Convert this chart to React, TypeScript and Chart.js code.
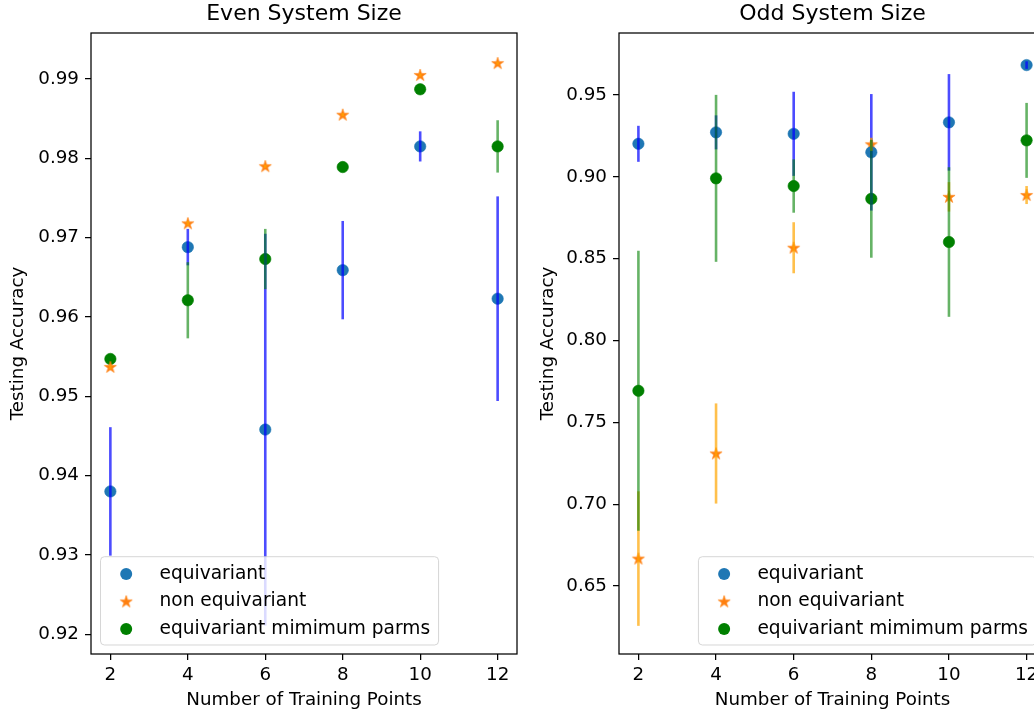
import React, { useEffect, useRef } from "react";
import { Chart, registerables } from "chart.js";

Chart.register(...registerables);

const FONT = "DejaVu Sans";
Chart.defaults.font.family = FONT;

// ---- data ----
const trainingPoints = [2, 4, 6, 8, 10, 12];
const xTickValues = [2, 4, 6, 8, 10, 12];
const xLimits = [1.5, 12.5];
const seriesLabels = ["equivariant", "non equivariant", "equivariant mimimum parms"];
const markerColors = ["#1f77b4", "#ff7f0e", "#008000"];
const errorBarColors = ["rgba(0,0,255,0.7)", "rgba(255,165,0,0.7)", "rgba(0,128,0,0.6)"];

const evenTitle = "Even System Size";
const evenYTicks = [0.92, 0.93, 0.94, 0.95, 0.96, 0.97, 0.98, 0.99];
const evenYLimits = [0.9175, 0.9958];
const evenEquivariant = [0.938, 0.9688, 0.9458, 0.9659, 0.9815, 0.9623];
const evenEquivariantErr = [0.0081, 0.0023, 0.0247, 0.0062, 0.0019, 0.0129];
const evenNonEquivariant = [0.9537, 0.9718, 0.979, 0.9855, 0.9905, 0.992];
const evenNonEquivariantErr = [0.0003, 0.0003, 0.0002, 0.0002, 0.0002, 0.0002];
const evenMinParms = [0.9547, 0.9621, 0.9673, 0.9789, 0.9887, 0.9815];
const evenMinParmsErr = [0.0003, 0.0048, 0.0038, 0.0003, 0.0002, 0.0033];

const oddTitle = "Odd System Size";
const oddYTicks = [0.65, 0.7, 0.75, 0.8, 0.85, 0.9, 0.95];
const oddYLimits = [0.6085, 0.9879];
const oddEquivariant = [0.9202, 0.9272, 0.9263, 0.915, 0.9333, 0.9683];
const oddEquivariantErr = [0.011, 0.0104, 0.0257, 0.0356, 0.0295, 0.0023];
const oddNonEquivariant = [0.6668, 0.731, 0.8567, 0.9199, 0.8878, 0.8889];
const oddNonEquivariantErr = [0.0411, 0.0306, 0.0156, 0.004, 0.009, 0.0055];
const oddMinParms = [0.7693, 0.8991, 0.8944, 0.8866, 0.8602, 0.9223];
const oddMinParmsErr = [0.0855, 0.051, 0.0163, 0.036, 0.0457, 0.0229];

const xAxisTitle = "Number of Training Points";
const yAxisTitle = "Testing Accuracy";

function makeStar(color: string): HTMLCanvasElement {
  const c = document.createElement("canvas");
  c.width = 16;
  c.height = 16;
  const ctx = c.getContext("2d")!;
  const R = 6.4;
  const r = R * 0.382;
  ctx.beginPath();
  for (let k = 0; k < 10; k++) {
    const rad = k % 2 === 0 ? R : r;
    const a = -Math.PI / 2 + (k * Math.PI) / 5;
    const px = 8 + rad * Math.cos(a);
    const py = 8.4 + rad * Math.sin(a);
    if (k === 0) ctx.moveTo(px, py);
    else ctx.lineTo(px, py);
  }
  ctx.closePath();
  ctx.fillStyle = color;
  ctx.fill();
  ctx.strokeStyle = color;
  ctx.lineWidth = 0.6;
  ctx.stroke();
  return c;
}

type PanelProps = {
  left: number;
  title: string;
  yLimits: number[];
  yTicks: number[];
  means: number[][];
  errs: number[][];
  legendSide: "left" | "right";
  yAxisWidth: number;
  rightPad: number;
};

function Panel(props: PanelProps) {
  const ref = useRef<HTMLCanvasElement>(null);
  useEffect(() => {
    const canvas = ref.current!;
    const star = makeStar(markerColors[1]);
    const styles: any[] = ["circle", star, "circle"];
    const datasets = props.means.map((vals, s) => ({
      label: seriesLabels[s],
      data: trainingPoints.map((x, i) => ({ x, y: vals[i] })),
      pointStyle: styles[s],
      pointRadius: 5.7,
      backgroundColor: markerColors[s],
      borderColor: markerColors[s],
      borderWidth: 0.6,
      showLine: false,
    }));

    const errorBars = {
      id: "errorBars",
      afterDatasetsDraw(chart: any) {
        const ctx = chart.ctx as CanvasRenderingContext2D;
        const ca = chart.chartArea;
        const xs = chart.scales.x;
        const ys = chart.scales.y;
        ctx.save();
        ctx.beginPath();
        ctx.rect(ca.left, ca.top, ca.right - ca.left, ca.bottom - ca.top);
        ctx.clip();
        ctx.lineWidth = 2.6;
        ctx.lineCap = "butt";
        props.means.forEach((vals, s) => {
          ctx.strokeStyle = errorBarColors[s];
          vals.forEach((v, i) => {
            const e = props.errs[s][i];
            const px = xs.getPixelForValue(trainingPoints[i]);
            ctx.beginPath();
            ctx.moveTo(px, ys.getPixelForValue(v - e));
            ctx.lineTo(px, ys.getPixelForValue(v + e));
            ctx.stroke();
          });
        });
        ctx.restore();
        // frame (all four spines)
        ctx.save();
        ctx.strokeStyle = "#000";
        ctx.lineWidth = 1.25;
        ctx.strokeRect(ca.left, ca.top, ca.right - ca.left, ca.bottom - ca.top);
        ctx.restore();
      },
    };

    const legendBox = {
      id: "legendBox",
      afterDraw(chart: any) {
        const ctx = chart.ctx as CanvasRenderingContext2D;
        const ca = chart.chartArea;
        ctx.save();
        ctx.font = `18.6px "${FONT}"`;
        const textW = Math.max(...seriesLabels.map((t) => ctx.measureText(t).width));
        const boxW = 59.5 + textW + 8;
        const boxH = 88.3;
        const bx = props.legendSide === "left" ? ca.left + 9.5 : ca.right - 9.5 - boxW;
        const by = ca.bottom - 9 - boxH;
        ctx.beginPath();
        if ((ctx as any).roundRect) (ctx as any).roundRect(bx, by, boxW, boxH, 4);
        else ctx.rect(bx, by, boxW, boxH);
        ctx.fillStyle = "rgba(255,255,255,0.8)";
        ctx.fill();
        ctx.strokeStyle = "rgba(204,204,204,0.8)";
        ctx.lineWidth = 1;
        ctx.stroke();
        seriesLabels.forEach((label, s) => {
          const cy = by + 17.3 + s * 27.5;
          const mx = bx + 25.7;
          if (s === 1) {
            ctx.drawImage(star, mx - 8, cy - 8);
          } else {
            ctx.beginPath();
            ctx.arc(mx, cy, 6, 0, Math.PI * 2);
            ctx.fillStyle = markerColors[s];
            ctx.fill();
          }
          ctx.fillStyle = "#000";
          ctx.textBaseline = "middle";
          ctx.textAlign = "left";
          ctx.fillText(label, bx + 59, cy);
        });
        ctx.restore();
      },
    };

    const tickFont = { family: FONT, size: 18.3 };
    const gridCfg = {
      display: true,
      drawOnChartArea: false,
      drawTicks: true,
      tickLength: 6,
      color: "#000",
      lineWidth: 1.25,
    };

    const chart = new Chart(canvas, {
      type: "scatter",
      data: { datasets: datasets as any },
      plugins: [errorBars, legendBox],
      options: {
        animation: false,
        responsive: false,
        devicePixelRatio: 1,
        events: [],
        layout: { padding: { left: 0, right: props.rightPad, top: 0, bottom: 0 } },
        plugins: {
          legend: { display: false },
          tooltip: { enabled: false },
          title: {
            display: true,
            text: props.title,
            color: "#000",
            fullSize: false,
            font: { family: FONT, size: 22, weight: "normal" },
            padding: { top: 1.2, bottom: 5.4 },
          },
        },
        scales: {
          x: {
            type: "linear",
            min: xLimits[0],
            max: xLimits[1],
            afterBuildTicks: (s: any) => {
              s.ticks = xTickValues.map((v) => ({ value: v }));
            },
            afterFit: (s: any) => {
              s.height = 59;
            },
            ticks: {
              color: "#000",
              font: tickFont,
              padding: 4,
              maxRotation: 0,
              autoSkip: false,
              callback: (v: any) => String(v),
            },
            grid: gridCfg,
            border: { display: false },
            title: {
              display: true,
              text: xAxisTitle,
              color: "#000",
              font: tickFont,
              padding: { top: 0, bottom: 2.0 },
            },
          },
          y: {
            type: "linear",
            min: props.yLimits[0],
            max: props.yLimits[1],
            afterBuildTicks: (s: any) => {
              s.ticks = props.yTicks.map((v) => ({ value: v }));
            },
            afterFit: (s: any) => {
              s.width = props.yAxisWidth;
            },
            ticks: {
              color: "#000",
              font: tickFont,
              padding: 6,
              autoSkip: false,
              callback: (v: any) => Number(v).toFixed(2),
            },
            grid: gridCfg,
            border: { display: false },
            title: {
              display: true,
              text: yAxisTitle,
              color: "#000",
              font: tickFont,
              padding: { top: 7.5, bottom: 0 },
            },
          },
        },
      } as any,
    });
    return () => chart.destroy();
  }, []);
  return (
    <canvas
      ref={ref}
      width={530}
      height={713}
      style={{ position: "absolute", left: props.left, top: 0, width: 530, height: 713, display: "block" }}
    />
  );
}

export default function App() {
  return (
    <div
      style={{
        position: "fixed",
        left: 0,
        top: 0,
        width: 1034,
        height: 713,
        overflow: "hidden",
        background: "#fff",
      }}
    >
      <Panel
        left={0}
        title={evenTitle}
        yLimits={evenYLimits}
        yTicks={evenYTicks}
        means={[evenEquivariant, evenNonEquivariant, evenMinParms]}
        errs={[evenEquivariantErr, evenNonEquivariantErr, evenMinParmsErr]}
        legendSide="left"
        yAxisWidth={91}
        rightPad={13}
      />
      <Panel
        left={530}
        title={oddTitle}
        yLimits={oddYLimits}
        yTicks={oddYTicks}
        means={[oddEquivariant, oddNonEquivariant, oddMinParms]}
        errs={[oddEquivariantErr, oddNonEquivariantErr, oddMinParmsErr]}
        legendSide="right"
        yAxisWidth={89}
        rightPad={14}
      />
    </div>
  );
}
